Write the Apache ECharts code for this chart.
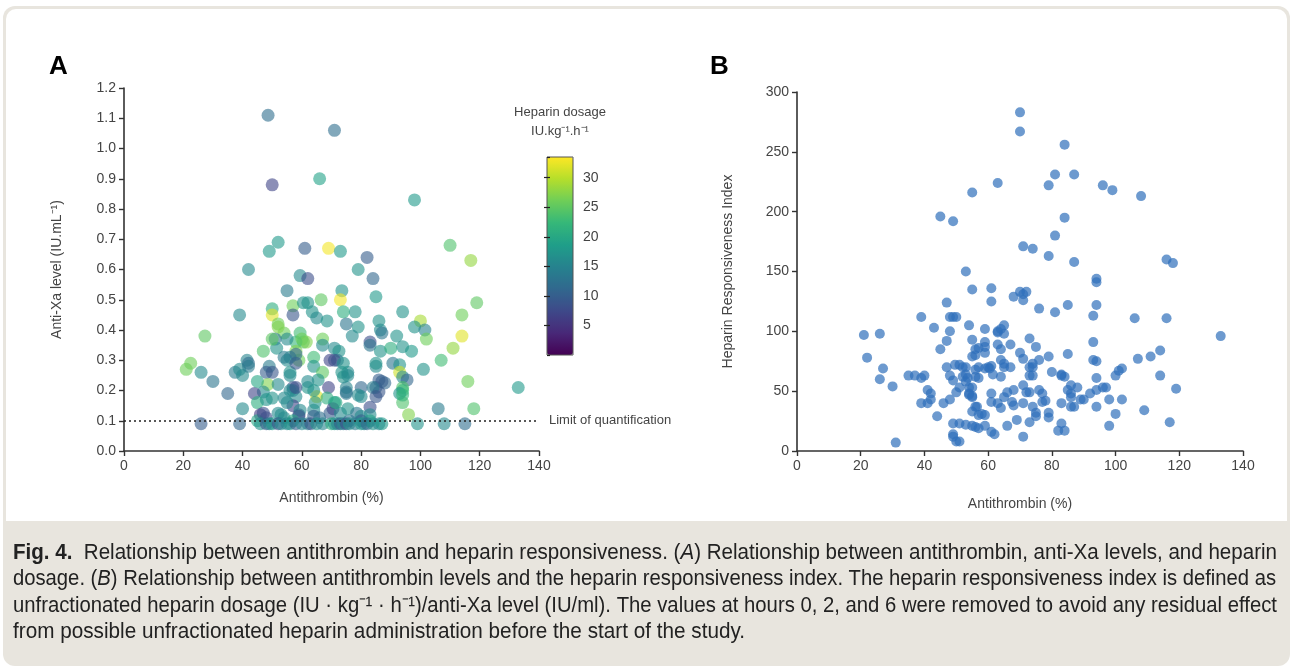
<!DOCTYPE html>
<html><head><meta charset="utf-8">
<script src="https://cdn.jsdelivr.net/npm/echarts@6/dist/echarts.min.js"></script>
<style>html,body{margin:0;padding:0;background:#fff}#c{width:1293px;height:668px}</style>
</head><body><div id="c"></div>
<script>
// ---------- Panel A data: antithrombin (%), anti-Xa (IU/mL), heparin dosage (IU/kg/h)
const antithrombinA = [48.6,71,50,66,98,42,49,52,61,69,73,82,110,117,119,114,111,107,114,79,84,59.4,62,55,73.5,85,73,66.5,57,62,78,74,94,50,50,57,60.5,63.5,65,68.5,75,79,77,86,86.5,87,92,100,98,101.5,102,52,54,59.4,60.5,61.5,58,55,51,51.5,47,67,67,71,72.5,72,69.5,64,64,67,65.5,58,59,56,55,54,49,48,50,56,56,83,83,86.5,85,85,90,94,97,90.7,101,93,93,94,95.5,94,94,94,74,75.5,80,85,88,86,79,75,75,69,65,68.5,71,83,62,62,57,57,58,48.5,47,39,27.3,21,22.5,26,30,35,37.5,39,40,41.5,42,42,44,40,45,52,45,46,45,50,52,58,58,60,56,58,57,55,50,48,53,54,59,47,52,59.4,59,64,64,69.5,70.5,73,75.5,78.5,80,83,96,106,118,116,133,86,87,84,85,80,75,71.5,73.5,75.5,71,74,64,64.5,54,93,94,48,57,66,76,80,83,26,39,46,48,49,50,52,53,55,56,58,60,62,63,65,67,70,71,72,73,74,75,76,78,80,81,82,84,86,87,99,108,115];
const antiXaA = [1.11,1.06,0.88,0.90,0.83,0.60,0.66,0.69,0.67,0.67,0.66,0.64,0.68,0.63,0.49,0.38,0.34,0.30,0.45,0.60,0.57,0.58,0.57,0.53,0.53,0.51,0.50,0.50,0.48,0.49,0.46,0.46,0.46,0.47,0.45,0.45,0.49,0.46,0.44,0.43,0.42,0.41,0.38,0.43,0.40,0.39,0.38,0.43,0.41,0.40,0.37,0.42,0.39,0.39,0.36,0.36,0.36,0.37,0.37,0.34,0.33,0.37,0.35,0.34,0.33,0.30,0.30,0.31,0.28,0.26,0.235,0.33,0.30,0.31,0.30,0.31,0.28,0.26,0.26,0.26,0.25,0.36,0.35,0.33,0.28,0.29,0.34,0.345,0.33,0.29,0.27,0.285,0.26,0.245,0.235,0.21,0.20,0.16,0.245,0.26,0.21,0.21,0.225,0.195,0.185,0.19,0.21,0.21,0.18,0.175,0.16,0.145,0.21,0.23,0.21,0.20,0.18,0.22,0.195,0.45,0.38,0.27,0.29,0.26,0.23,0.19,0.26,0.27,0.25,0.30,0.29,0.28,0.19,0.14,0.23,0.22,0.16,0.12,0.10,0.37,0.41,0.29,0.32,0.37,0.20,0.21,0.15,0.16,0.175,0.17,0.12,0.11,0.12,0.125,0.125,0.135,0.115,0.135,0.115,0.125,0.14,0.125,0.14,0.125,0.115,0.12,0.12,0.14,0.14,0.23,0.21,0.235,0.23,0.21,0.18,0.18,0.195,0.16,0.26,0.25,0.30,0.29,0.20,0.16,0.175,0.19,0.185,0.11,0.10,0.11,0.10,0.10,0.10,0.09,0.09,0.09,0.09,0.09,0.09,0.09,0.09,0.09,0.09,0.09,0.09,0.09,0.09,0.09,0.09,0.09,0.09,0.09,0.09,0.09,0.09,0.09,0.09,0.09,0.09,0.09,0.09,0.09,0.09,0.09,0.09,0.09];
const dosageA = [12,12,7,19,18,16,18,18,10,33,18,10,24,28,25,32,28,23,26,17,11,16,8,14,17,18,33,25,26,17,17,21,17,21,32,9,17,17,16,17,13,17,16,17,16,13,17,29,17,15,26,26,26,23,24,27,22,16,13,17,24,26,16,16,17,13,7,23,17,25,17,27,26,15,16,14,14,10,9,17,16,8,13,17,16,17,21,17,18,13,17,17,31,16,11,24,22,24,17,16,11,11,11,9,16,13,15,7,32,21,19,8,17,16,9,15,16,27,16,16,25,26,26,16,13,11,14,16,16,15,12,14,7,16,20,16,21,6,20,25,27,9,11,26,16,8,7,16,17,17,17,16,8,8,16,16,9,16,10,10,7,16,17,13,16,16,27,14,24,26,18,10,10,14,9,16,13,20,17,16,8,17,17,17,16,17,22,8,20,12,13,10,19,10,11,17,9,15,18,8,16,15,17,10,16,14,9,17,15,21,17,15,10,16,8,17,14,18,16,11,17,15,18,17,16,12];
// ---------- Panel B data: antithrombin (%), heparin responsiveness index
const antithrombinB = [70,70,84,81,87,79,96,99,108,55,63,45,49,84,81,71,74,79,87,53,116,118,94,94,55,61,61,68,70,71,72,71,76,81,85,94,93,106,116,133,47,39,48,49,50,54,43,48,21,26,47,55,45,22,27,26,30,31,35,37,39,40,41,42,39,41,42,44,46,48,47,48,49,50,49,51,49,49,50,53,55,56,49.6,51,52,53,52,53.6,54,55,54,55,55,55,56.5,57,57,57,55,56,114,111,107,102,101,100,114,119,109,117,100,98,102,98,94,97,96,94,94,93,94,93,92,90,89,88,86,86,86,85,86,87,83,83,84,83,85,79,80,83,82,84,79,79,77,78,76,77,76,59,63,64,65,65,63,59,63,67,64,56,59,59,70,71,73,75,53,56,59,60,60.5,61.5,64,65,67,56,61,64,65,73,74,74,74,73,51,54,61,61,63,64,65,66,68,67.5,68,71,71,72,73,74,75,75,73,69,66,71,61,62,59,57,56,58,59,57,51,53];
const hriB = [283,267,256,231,231,222,222,218,213,216,224,196,192,195,180,171,169,163,158,150,160,157,144,141,135,136,125,129,133,131,133,126,119,116,122,122,113,111,111,96,124,112,112,112,112,105,103,100,97,98,92,93,85,78,69,60,54,7,63,63,61,63,51,48,40,40,43,29,40,43,70,63,59,49,23,23,14,12,8,22,21,20,72,72,70,64,62,61,53,53,48,46,45,33,37,70,61,86,79,80,84,79,77,69,67,63,63,52,34,24,31,21,43,43,37,53,53,51,61,76,75,91,48,43,43,53,55,48,45,51,37,37,40,63,62,64,81,79,66,23,17,17,32,28,41,42,51,48,76,102,100,102,105,98,99,91,89,89,85,85,87,82,82,77,94,87,70,68,69,70,69,64,62,70,70,62,71,76,73,70,70,73,63,63,53,47,48,41,40,36,45,49,51,41,38,40,55,49,49,37,32,29,24,26,21,12,16,14,21,19,37,31,30,30,8,58];
// ---------- axis ticks / colour scale
const xTicksA = {min: 0, max: 140, interval: 20};
const yTicksA = {min: 0, max: 1.2, interval: 0.1};
const xTicksB = {min: 0, max: 140, interval: 20};
const yTicksB = {min: 0, max: 300, interval: 50};
const dosageScale = {min: 0, max: 33.5, interval: 5};
const dosageTickLabels = [5, 10, 15, 20, 25, 30];
const loqValue = 0.1;
const viridis = ['#440154','#482878','#3e4989','#31688e','#26828e','#1f9e89','#35b779','#6ece58','#b5de2b','#fde725'];

const captionLines = [
  ['Fig. 4.', '  Relationship between antithrombin and heparin responsiveness. (', 'A', ') Relationship between antithrombin, anti-Xa levels, and heparin'],
  ['', 'dosage. (', 'B', ') Relationship between antithrombin levels and the heparin responsiveness index. The heparin responsiveness index is defined as'],
  ['', 'unfractionated heparin dosage (IU \u00b7 kg\u207b\u00b9 \u00b7 h\u207b\u00b9)/anti-Xa level (IU/ml). The values at hours 0, 2, and 6 were removed to avoid any residual effect', '', ''],
  ['', 'from possible unfractionated heparin administration before the start of the study.', '', '']
];
const captionTargetW = [1264, 1263, 1264, 732];
const captionY = [553, 579, 606, 632];

const FONT = '"Liberation Sans", Arial, Helvetica, sans-serif';
const CAP_SIZE = 22;
const mctx = document.createElement('canvas').getContext('2d');
function w(txt, weight, style){ mctx.font = (style||'') + ' ' + (weight||'') + ' ' + CAP_SIZE + 'px "Liberation Sans"'; return mctx.measureText(txt).width; }

const axisCommon = {
  axisLine: {show: true, lineStyle: {color: '#333', width: 1.6}},
  axisTick: {show: true, length: 5, lineStyle: {color: '#333', width: 1.4}},
  splitLine: {show: false},
  axisLabel: {color: '#444', fontSize: 14, fontFamily: FONT, margin: 8},
  nameTextStyle: {color: '#444', fontSize: 14, fontFamily: FONT},
  nameLocation: 'middle'
};

const chart = echarts.init(document.getElementById('c'), null, {renderer: 'canvas'});

const graphics = [
  {type: 'rect', z: -10, shape: {x: 3, y: 6, width: 1287, height: 660, r: 12}, style: {fill: '#e8e5de'}},
  {type: 'rect', z: -9, shape: {x: 6, y: 9, width: 1281, height: 512, r: [10, 10, 0, 0]}, style: {fill: '#ffffff'}},
  {type: 'text', z: 10, x: 49, y: 67, style: {text: 'A', font: 'bold 26px ' + FONT, fill: '#000', verticalAlign: 'middle'}},
  {type: 'text', z: 10, x: 710, y: 67, style: {text: 'B', font: 'bold 26px ' + FONT, fill: '#000', verticalAlign: 'middle'}},
  {type: 'text', z: 10, x: 560, y: 112, style: {text: 'Heparin dosage', font: '13px ' + FONT, fill: '#444', align: 'center', verticalAlign: 'middle'}},
  {type: 'text', z: 10, x: 560, y: 131, style: {text: 'IU.kg\u207b\u00b9.h\u207b\u00b9', font: '13px ' + FONT, fill: '#444', align: 'center', verticalAlign: 'middle'}}
];
captionLines.forEach((ln, i) => {
  const natural = w(ln[0], 'bold') + w(ln[1]) + w(ln[2], '', 'italic') + w(ln[3]);
  const sx = captionTargetW[i] / natural;
  let txt = '';
  if (ln[0]) txt += '{b|' + ln[0] + '}';
  txt += '{n|' + ln[1] + '}';
  if (ln[2]) txt += '{i|' + ln[2] + '}';
  if (ln[3]) txt += '{n|' + ln[3] + '}';
  graphics.push({type: 'text', z: 10, x: 13, y: captionY[i], scaleX: sx, style: {
    text: txt, verticalAlign: 'middle', fill: '#222',
    rich: {
      b: {fontFamily: '"Liberation Sans"', fontWeight: 'bold', fontSize: CAP_SIZE, fill: '#222'},
      n: {fontFamily: '"Liberation Sans"', fontSize: CAP_SIZE, fill: '#222'},
      i: {fontFamily: '"Liberation Sans"', fontStyle: 'italic', fontSize: CAP_SIZE, fill: '#222'}
    }
  }});
});

const option = {
  animation: false,
  backgroundColor: '#ffffff',
  graphic: graphics,
  grid: [
    {left: 124, top: 88, width: 415, height: 363, outerBoundsMode: 'none'},
    {left: 797, top: 92, width: 446, height: 359, outerBoundsMode: 'none'},
    {left: 547, top: 157, width: 26, height: 198, outerBoundsMode: 'none', show: true, z: 6, borderColor: '#555', borderWidth: 1, backgroundColor: 'transparent'}
  ],
  xAxis: [
    Object.assign({}, axisCommon, {gridIndex: 0, type: 'value', min: xTicksA.min, max: xTicksA.max, interval: xTicksA.interval, name: 'Antithrombin (%)', nameGap: 40}),
    Object.assign({}, axisCommon, {gridIndex: 1, type: 'value', min: xTicksB.min, max: xTicksB.max, interval: xTicksB.interval, name: 'Antithrombin (%)', nameGap: 46}),
    {gridIndex: 2, type: 'value', show: false, min: 0, max: 1}
  ],
  yAxis: [
    Object.assign({}, axisCommon, {gridIndex: 0, type: 'value', min: yTicksA.min, max: yTicksA.max, interval: yTicksA.interval, name: 'Anti-Xa level (IU.mL\u207b\u00b9)', nameGap: 60,
      axisLabel: Object.assign({}, axisCommon.axisLabel, {formatter: v => v.toFixed(1)})}),
    Object.assign({}, axisCommon, {gridIndex: 1, type: 'value', min: yTicksB.min, max: yTicksB.max, interval: yTicksB.interval, name: 'Heparin Responsiveness Index', nameGap: 62}),
    {gridIndex: 2, type: 'value', position: 'right', z: 7, min: dosageScale.min, max: dosageScale.max, interval: dosageScale.interval,
      axisLine: {show: false}, splitLine: {show: false},
      axisTick: {show: true, inside: true, length: 3, lineStyle: {color: '#222', width: 1.2}},
      axisLabel: {color: '#444', fontSize: 14, fontFamily: FONT, margin: 10, showMaxLabel: false, showMinLabel: false,
        formatter: v => (dosageTickLabels.indexOf(v) >= 0 ? String(v) : '')}},
    {gridIndex: 2, type: 'value', position: 'left', z: 7, min: dosageScale.min, max: dosageScale.max, interval: dosageScale.interval,
      axisLine: {show: false}, splitLine: {show: false},
      axisTick: {show: true, inside: true, length: 3, lineStyle: {color: '#222', width: 1.2}},
      axisLabel: {show: false}}
  ],
  visualMap: [{
    type: 'continuous', seriesIndex: 0, dimension: 2,
    min: dosageScale.min, max: dosageScale.max,
    inRange: {color: viridis},
    left: 547, top: 157, itemWidth: 26, itemHeight: 198, padding: 0,
    calculable: false, realtime: false, text: null, showLabel: false, z: 4,
    hoverLink: false
  }],
  series: [
    {
      type: 'scatter', xAxisIndex: 0, yAxisIndex: 0, symbolSize: 13,
      itemStyle: {opacity: 0.6},
      data: antithrombinA.map((x, i) => [x, antiXaA[i], dosageA[i]]),
      markLine: {
        silent: true, symbol: ['none', 'none'],
        lineStyle: {type: [2, 3], color: '#222', width: 1.5},
        label: {show: true, position: 'end', formatter: 'Limit of quantification', color: '#444', fontSize: 13, fontFamily: FONT, distance: 10},
        data: [{yAxis: loqValue}]
      }
    },
    {
      type: 'scatter', xAxisIndex: 1, yAxisIndex: 1, symbolSize: 10,
      itemStyle: {color: '#2f6fba', opacity: 0.7},
      data: antithrombinB.map((x, i) => [x, hriB[i]])
    }
  ]
};
chart.setOption(option);
</script>
</body></html>
